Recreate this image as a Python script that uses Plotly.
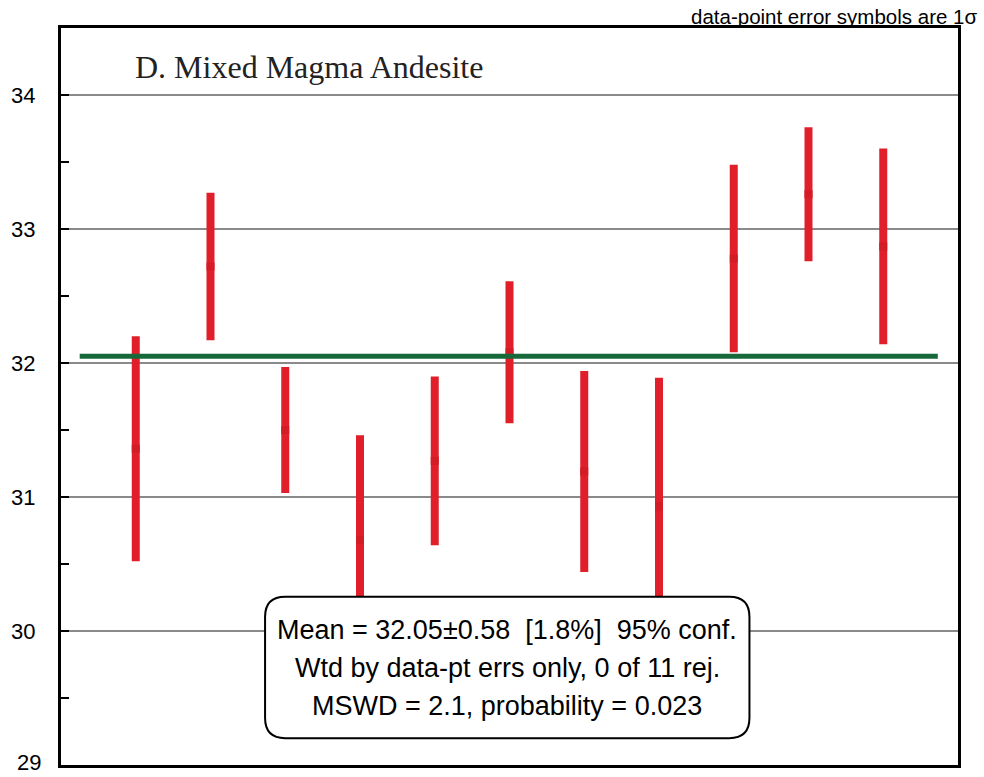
import plotly.graph_objects as go

# Weighted-mean plot: 11 analyses with 1-sigma error bars
analysis = list(range(1, 12))
age = [31.36, 32.72, 31.50, 30.68, 31.27, 32.08, 31.19, 30.93, 32.78, 33.26, 32.87]
sigma = [0.84, 0.55, 0.47, 0.78, 0.63, 0.53, 0.75, 0.96, 0.70, 0.50, 0.73]
weighted_mean = 32.05
y_ticks = [29, 30, 31, 32, 33, 34]

RED = "#e01f2a"
GREEN = "#17693a"
SANS = "Arial, Liberation Sans, sans-serif"

fig = go.Figure()

# Error bars (1 sigma) drawn as thick vertical strokes
fig.add_trace(go.Scatter(
    x=analysis, y=age, mode="markers",
    marker=dict(symbol="square", size=8, color="#d41c27", line=dict(width=0)),
    error_y=dict(type="data", array=sigma, visible=True,
                 thickness=8, width=0, color=RED),
    hoverinfo="skip", showlegend=False,
))

# Weighted mean line
fig.add_trace(go.Scatter(
    x=[0.25, 11.73], y=[weighted_mean, weighted_mean], mode="lines",
    line=dict(color=GREEN, width=5), hoverinfo="skip", showlegend=False,
))

# Rounded statistics box
x0, x1, y0, y1 = 2.73, 9.21, 29.20, 30.255
rx, ry = 0.27, 0.15
path = (f"M {x0+rx},{y1} L {x1-rx},{y1} Q {x1},{y1} {x1},{y1-ry} "
        f"L {x1},{y0+ry} Q {x1},{y0} {x1-rx},{y0} "
        f"L {x0+rx},{y0} Q {x0},{y0} {x0},{y0+ry} "
        f"L {x0},{y1-ry} Q {x0},{y1} {x0+rx},{y1} Z")
fig.add_shape(type="path", path=path, xref="x", yref="y",
              fillcolor="white", line=dict(color="black", width=2), layer="above")

nb = "\u00a0"
stats_lines = [
    f"Mean = 32.05±0.58{nb}{nb}[1.8%]{nb}{nb}95% conf.",
    "Wtd by data-pt errs only, 0 of 11 rej.",
    "MSWD = 2.1, probability = 0.023",
]
for line, yy in zip(stats_lines, [30.005, 29.722, 29.44]):
    fig.add_annotation(x=(x0 + x1) / 2, y=yy, xref="x", yref="y", text=line,
                       showarrow=False, font=dict(family=SANS, size=27, color="black"),
                       xanchor="center", yanchor="middle")

fig.add_annotation(x=0.080, y=0.947, xref="paper", yref="paper",
                   text="D. Mixed Magma Andesite", showarrow=False,
                   font=dict(family="Times New Roman, Liberation Serif, serif", size=32, color="#222"),
                   xanchor="left", yanchor="middle")

fig.add_annotation(x=1.0 + 17 / 897, y=1.0 + 11 / 737, xref="paper", yref="paper",
                   text="data-point error symbols are 1σ", showarrow=False, xshift=4,
                   font=dict(family=SANS, size=20.5, color="black"),
                   xanchor="right", yanchor="middle")

# Bottom tick label sits on the axis edge, so place it explicitly
fig.add_annotation(x=0, y=0, xref="paper", yref="paper", text=str(y_ticks[0]),
                   showarrow=False, xanchor="right", yanchor="bottom", xshift=-19, yshift=-11,
                   borderpad=0, font=dict(family=SANS, size=22, color="black"))

fig.update_layout(
    width=984, height=777,
    margin=dict(l=61, r=26, t=28, b=12),
    plot_bgcolor="white", paper_bgcolor="white",
    showlegend=False,
    xaxis=dict(range=[0, 12], showgrid=False, zeroline=False, showticklabels=False,
               ticks="", showline=True, linecolor="black", linewidth=3, mirror=True),
    yaxis=dict(range=[29, 34.5], tickvals=y_ticks[1:], ticktext=[str(v) for v in y_ticks[1:]],
               showgrid=True, gridcolor="#8a8a8a", gridwidth=2, zeroline=False,
               ticks="inside", ticklen=8, tickwidth=2, tickcolor="black",
               minor=dict(dtick=0.5, ticks="inside", ticklen=8, tickwidth=2,
                          tickcolor="black", showgrid=False),
               showline=True, linecolor="black", linewidth=3, mirror=True,
               tickfont=dict(family=SANS, size=22, color="black"), ticklabelstandoff=18),
)

fig.write_html("out.html")
